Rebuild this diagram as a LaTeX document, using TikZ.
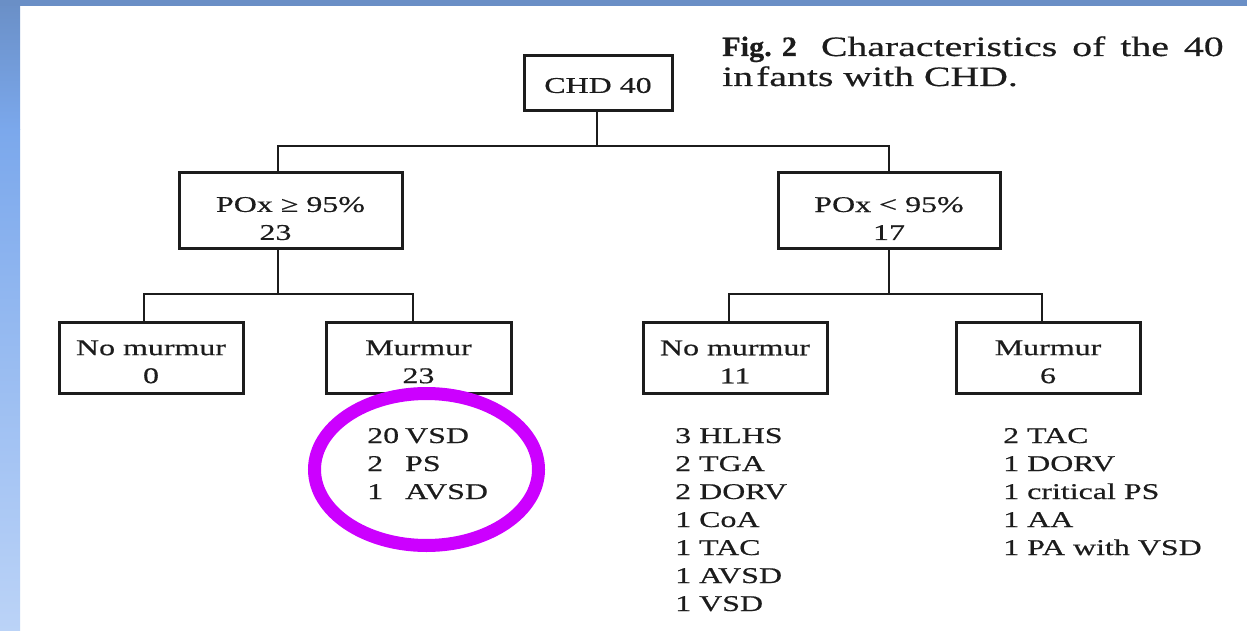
\documentclass[tikz,border=0pt]{standalone}
\usepackage{fontspec}
\setmainfont{Liberation Serif}[FakeStretch=1.42, FakeBold=0.5]
\newfontfamily\capboldfam{Liberation Serif}[FakeStretch=1.08, FakeBold=0.6]
\definecolor{bandtop}{HTML}{6A8FC6}
\definecolor{bandmid}{HTML}{7BA8EC}
\definecolor{bandbot}{HTML}{BBD3F7}
\definecolor{ring}{HTML}{CC00FF}
\definecolor{ink}{HTML}{1C1C1C}
\newcommand\bxfont{\fontsize{22.5}{28}\selectfont}
\newcommand\capfont{\fontsize{28}{31}\selectfont}
\tikzset{
  box/.style={draw=ink, line width=3pt, align=center, inner sep=0pt, font=\bxfont, text=ink},
  conn/.style={draw=ink, line width=2.8pt},
  listtext/.style={anchor=base west, inner sep=0pt, font=\bxfont, text=ink},
  captext/.style={anchor=base west, inner sep=0pt, font=\capfont, text=ink},
}
\begin{document}
\begin{tikzpicture}[x=1pt,y=-1pt]
\useasboundingbox (0,0) rectangle (1247,631);
% background bands
\fill[white] (0,0) rectangle (1247,631);
\shade[top color=bandtop, bottom color=bandmid] (0,0) rectangle (20,130);
\shade[top color=bandmid, bottom color=bandbot] (0,130) rectangle (20,631);
\fill[bandtop] (0,0) rectangle (1247,6.5);

% caption
\node[captext] (cap1) at (722,56)
  {{\capboldfam\bfseries Fig. 2}\hspace{24pt}Characteristics\hspace{15pt}of\hspace{15pt}the\hspace{15pt}40};
\node[captext] (cap2) at (722,86)
  {in\hspace{3pt}fants with CHD.};

% boxes
\node[box, minimum width=148pt, minimum height=55pt] (chd) at (598,83.5) {\rule{0pt}{19pt}CHD 40};
\node[box, minimum width=223pt, minimum height=75pt] (p1) at (290.5,210.5)
  {\rule{0pt}{31pt}POx ≥ 95\%\\23\rule{30pt}{0pt}};
\node[box, minimum width=222pt, minimum height=75pt] (p2) at (889,210.5)
  {\rule{0pt}{31pt}POx < 95\%\\17};
\node[box, minimum width=184pt, minimum height=71pt] (n1) at (151,357.5) {\rule{0pt}{23.5pt}No murmur\\0};
\node[box, minimum width=185pt, minimum height=71pt] (m1) at (418.5,357.5) {\rule{0pt}{23.5pt}Murmur\\23};
\node[box, minimum width=184pt, minimum height=71pt] (n2) at (735,357.5) {\rule{0pt}{23.5pt}No murmur\\11};
\node[box, minimum width=184pt, minimum height=71pt] (m2) at (1048,357.5) {\rule{0pt}{23.5pt}Murmur\\6};

% junction coordinates
\coordinate (b0) at (597,146);
\coordinate (a1) at (278,0);
\coordinate (a2) at (889,0);
\coordinate (b1) at (278,294);
\coordinate (b2) at (889,294);
\coordinate (c1) at (144,0);
\coordinate (c2) at (413,0);
\coordinate (c3) at (729,0);
\coordinate (c4) at (1042,0);

% connectors
\draw[conn] (chd.south -| b0) -- (b0);
\draw[conn] (p1.north -| a1) |- (b0) -| (p2.north -| a2);
\draw[conn] (p1.south -| a1) -- (b1);
\draw[conn] (n1.north -| c1) |- (b1) -| (m1.north -| c2);
\draw[conn] (p2.south -| a2) -- (b2);
\draw[conn] (n2.north -| c3) |- (b2) -| (m2.north -| c4);

% lists
\node[listtext] (l1) at (367,443)
  {\begin{tabular}[t]{@{}l@{\hspace{6pt}}l@{}}20 & VSD\\ 2 & PS\\ 1 & AVSD\end{tabular}};
\node[listtext] (l2) at (675,443)
  {\begin{tabular}[t]{@{}l@{}}3 HLHS\\ 2 TGA\\ 2 DORV\\ 1 CoA\\ 1 TAC\\ 1 AVSD\\ 1 VSD\end{tabular}};
\node[listtext] (l3) at (1003,443)
  {\begin{tabular}[t]{@{}l@{}}2 TAC\\ 1 DORV\\ 1 critical PS\\ 1 AA\\ 1 PA with VSD\end{tabular}};

% highlight ring
\draw[ring, line width=13pt] (426.5,469.5) ellipse [x radius=112, y radius=76];
\end{tikzpicture}
\end{document}
